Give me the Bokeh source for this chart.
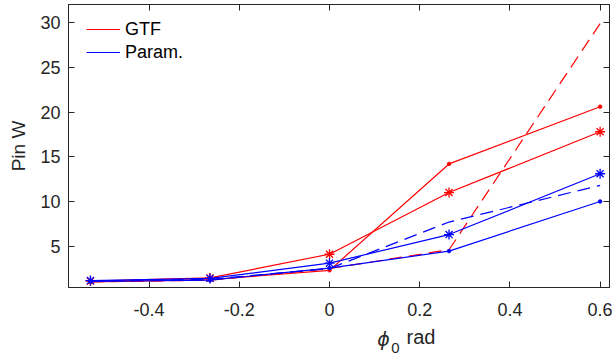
import math
from bokeh.plotting import figure
from bokeh.models import (Range1d, FixedTicker, LinearAxis, Legend, LegendItem, Label)
from bokeh.layouts import column
from bokeh.embed import file_html
from bokeh.resources import INLINE

# ---- data ----
phi0 = [-0.53, -0.265, 0.0, 0.265, 0.6]

gtf_star = [1.1, 1.45, 4.1, 11.0, 17.8]
gtf_dot = [1.0, 1.25, 2.3, 14.2, 20.6]
gtf_dash = [1.0, 1.2, 2.5, 4.6, 29.9]

par_star = [1.15, 1.4, 3.1, 6.3, 13.1]
par_dot = [1.05, 1.2, 2.55, 4.45, 10.0]
par_dash = [1.1, 1.3, 2.5, 7.7, 11.8]

x_ticks = [-0.4, -0.2, 0, 0.2, 0.4, 0.6]
x_tick_labels = ["-0.4", "-0.2", "0", "0.2", "0.4", "0.6"]
y_ticks = [5, 10, 15, 20, 25, 30]

legend_labels = ["GTF", "Param."]
y_label = "Pin W"

RED = "#FF0000"
BLUE = "#0000FF"
AX = "#262626"
FONT = "Liberation Sans"

p = figure(width=612, height=320, output_backend="svg", toolbar_location=None,
           x_range=Range1d(-0.5787, 0.6208), y_range=Range1d(0.38, 32.03),
           min_border_left=68, min_border_right=3, min_border_top=4, min_border_bottom=33)
p.xgrid.visible = False
p.ygrid.visible = False
p.outline_line_color = AX
p.outline_line_width = 1
p.background_fill_color = "white"
p.border_fill_color = "white"

def style_axis(ax, show_labels):
    ax.axis_line_color = AX
    ax.axis_line_width = 1
    ax.major_tick_line_color = AX
    ax.major_tick_in = 6
    ax.major_tick_out = 0
    ax.minor_tick_line_color = None
    ax.major_label_text_font = FONT
    if show_labels:
        ax.major_label_text_color = AX
        ax.major_label_text_font_size = "18px"
    else:
        ax.major_label_text_color = None
        ax.major_label_text_font_size = "0px"
        ax.major_label_standoff = 0

p.xaxis.ticker = FixedTicker(ticks=x_ticks)
p.yaxis.ticker = FixedTicker(ticks=y_ticks)
p.xaxis.major_label_overrides = {t: s for t, s in zip(x_ticks, x_tick_labels)}
style_axis(p.xaxis[0], True)
style_axis(p.yaxis[0], True)
p.xaxis.major_label_standoff = 15
p.yaxis.major_label_standoff = 8
p.yaxis.axis_label = y_label
p.yaxis.axis_label_text_font = FONT
p.yaxis.axis_label_text_font_size = "19px"
p.yaxis.axis_label_text_font_style = "normal"
p.yaxis.axis_label_text_color = AX
p.yaxis.axis_label_standoff = 8

top_ax = LinearAxis(ticker=FixedTicker(ticks=x_ticks))
right_ax = LinearAxis(ticker=FixedTicker(ticks=y_ticks))
style_axis(top_ax, False)
style_axis(right_ax, False)
p.add_layout(top_ax, "above")
p.add_layout(right_ax, "right")

LW = 1.2
# GTF (red)
r_gtf = p.line(phi0, gtf_dot, line_color=RED, line_width=LW)
p.scatter(phi0, gtf_dot, marker="circle", size=3.5, fill_color=RED, line_color=RED)
p.line(phi0, gtf_star, line_color=RED, line_width=LW)
p.scatter(phi0, gtf_star, marker="asterisk", size=10, line_color=RED, line_width=1.3)
p.line(phi0, gtf_dash, line_color=RED, line_width=LW, line_dash="13 7")
# Param (blue)
r_par = p.line(phi0, par_dot, line_color=BLUE, line_width=LW)
p.scatter(phi0, par_dot, marker="circle", size=3.5, fill_color=BLUE, line_color=BLUE)
p.line(phi0, par_star, line_color=BLUE, line_width=LW)
p.scatter(phi0, par_star, marker="asterisk", size=10, line_color=BLUE, line_width=1.3)
p.line(phi0, par_dash, line_color=BLUE, line_width=LW, line_dash="13 7")

legend = Legend(items=[LegendItem(label=legend_labels[0], renderers=[r_gtf]),
                       LegendItem(label=legend_labels[1], renderers=[r_par])],
                location=(18, 224.3), margin=0, padding=0, spacing=2,
                glyph_width=34, glyph_height=20, label_height=20, label_standoff=5,
                label_text_font=FONT, label_text_font_size="18px", label_text_color="#000000",
                border_line_color=None, background_fill_alpha=0)
p.add_layout(legend)

# strip below the chart carrying the x-axis title: phi_0 rad
p2 = figure(width=612, height=38, output_backend="svg", toolbar_location=None,
            x_axis_type=None, y_axis_type=None,
            x_range=Range1d(0, 612), y_range=Range1d(0, 38),
            min_border_left=0, min_border_right=0, min_border_top=0, min_border_bottom=0)
p2.outline_line_color = None
p2.xgrid.visible = False
p2.ygrid.visible = False
p2.background_fill_color = "white"
p2.border_fill_color = "white"

p2.add_layout(Label(x=315, y=20, x_units="screen", y_units="screen", text="ϕ",
                    text_font="DejaVu Sans", text_font_size="19px", text_font_style="italic",
                    text_align="center", text_baseline="middle", text_color=AX))
p2.add_layout(Label(x=327, y=10.5, x_units="screen", y_units="screen", text="0",
                    text_font=FONT, text_font_size="15px",
                    text_align="center", text_baseline="middle", text_color=AX))
p2.add_layout(Label(x=338, y=22, x_units="screen", y_units="screen", text="rad",
                    text_font=FONT, text_font_size="20px",
                    text_align="left", text_baseline="middle", text_color=AX))

layout = column(p, p2, spacing=0)
open("out.html", "w").write(file_html(layout, INLINE))
